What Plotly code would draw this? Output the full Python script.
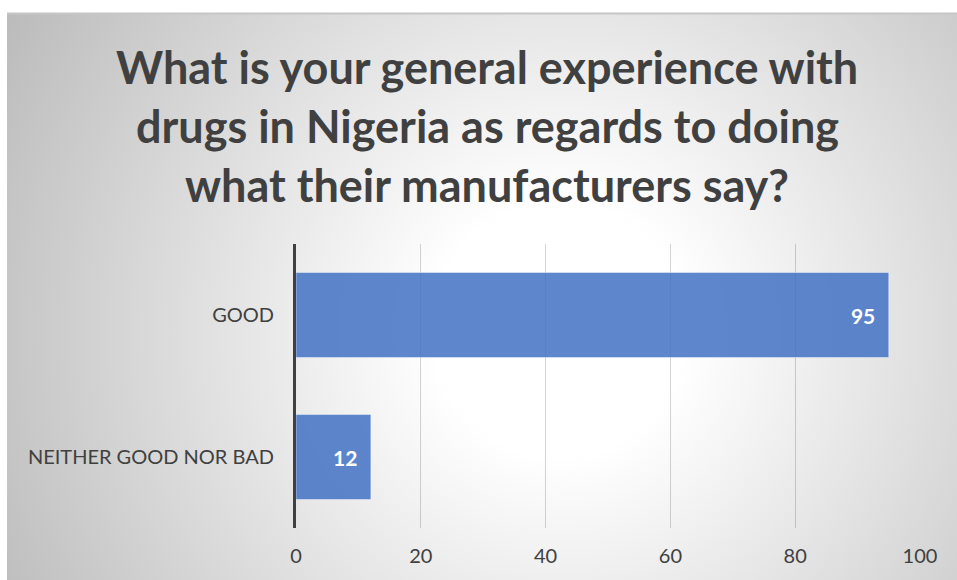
import base64
import plotly.graph_objects as go

# Survey responses
categories = ["GOOD", "NEITHER GOOD NOR BAD"]
counts = [95, 12]
x_ticks = [0, 20, 40, 60, 80, 100]

title_lines = [
    "What is your general experience with",
    "drugs in Nigeria as regards to doing",
    "what their manufacturers say?",
]

W, H = 957, 580
# plot-area placement in pixels
L, R, T, B = 296, 37, 244, 52
PW, PH = W - L - R, H - T - B
TITLE_CX = 487  # horizontal centre of the title block

FONT = "Lato"
TEXT = "#404040"

# Radial grey-to-white backdrop of the chart frame, as an inline SVG
svg = f"""<svg xmlns='http://www.w3.org/2000/svg' width='{W}' height='{H}' viewBox='0 0 {W} {H}'>
<defs><radialGradient id='g' gradientUnits='userSpaceOnUse' cx='560' cy='330' r='630'>
<stop offset='0' stop-color='#ffffff'/><stop offset='0.2' stop-color='#ffffff'/>
<stop offset='1' stop-color='#bcbcbc'/></radialGradient></defs>
<rect x='0' y='0' width='{W}' height='{H}' fill='#ffffff'/>
<rect x='7' y='13' width='{W}' height='{H}' fill='url(#g)'/>
<line x1='7' y1='13.5' x2='{W}' y2='13.5' stroke='#c6c6c6' stroke-width='2'/>
</svg>"""
bg_src = "data:image/svg+xml;base64," + base64.b64encode(svg.encode()).decode()

fig = go.Figure(
    go.Bar(
        x=counts,
        y=categories,
        orientation="h",
        marker=dict(color="rgba(68,114,196,0.86)",
                    line=dict(color="rgba(255,255,255,0.45)", width=1)),
        texttemplate="%{x}\u2002",
        textposition="inside",
        insidetextanchor="end",
        textfont=dict(family=FONT, size=21, color="white", weight="bold"),
        cliponaxis=False,
    )
)

# Title, one line per annotation
for i, line in enumerate(title_lines):
    fig.add_annotation(
        text=f"<b>{line}</b>", xref="paper", yref="paper",
        x=(TITLE_CX - L) / PW, y=(H - B - (67 + 59 * i)) / PH,
        xanchor="center", yanchor="middle", showarrow=False,
        font=dict(family=FONT, size=45, color=TEXT),
    )

fig.update_layout(
    width=W, height=H,
    margin=dict(l=L, r=R, t=T, b=B, autoexpand=False),
    paper_bgcolor="white",
    plot_bgcolor="rgba(0,0,0,0)",
    bargap=0.4,
    showlegend=False,
    images=[dict(
        source=bg_src, xref="paper", yref="paper",
        x=-L / PW, y=(H - B) / PH, sizex=W / PW, sizey=H / PH,
        xanchor="left", yanchor="top", sizing="stretch", layer="below",
    )],
    xaxis=dict(
        range=[0, 100], tickvals=x_ticks, showgrid=True,
        gridcolor="rgba(0,0,0,0.17)", gridwidth=1, zeroline=False,
        showline=False, ticks="", ticklabelstandoff=14,
        tickfont=dict(family=FONT, size=20, color=TEXT),
        automargin=False, fixedrange=True,
    ),
    yaxis=dict(
        autorange="reversed", showgrid=False, zeroline=False,
        showline=True, linecolor="#404040", linewidth=3,
        ticks="", ticklabelstandoff=15,
        tickfont=dict(family=FONT, size=20, color=TEXT),
        automargin=False, fixedrange=True,
    ),
)

fig.write_html("out.html")
